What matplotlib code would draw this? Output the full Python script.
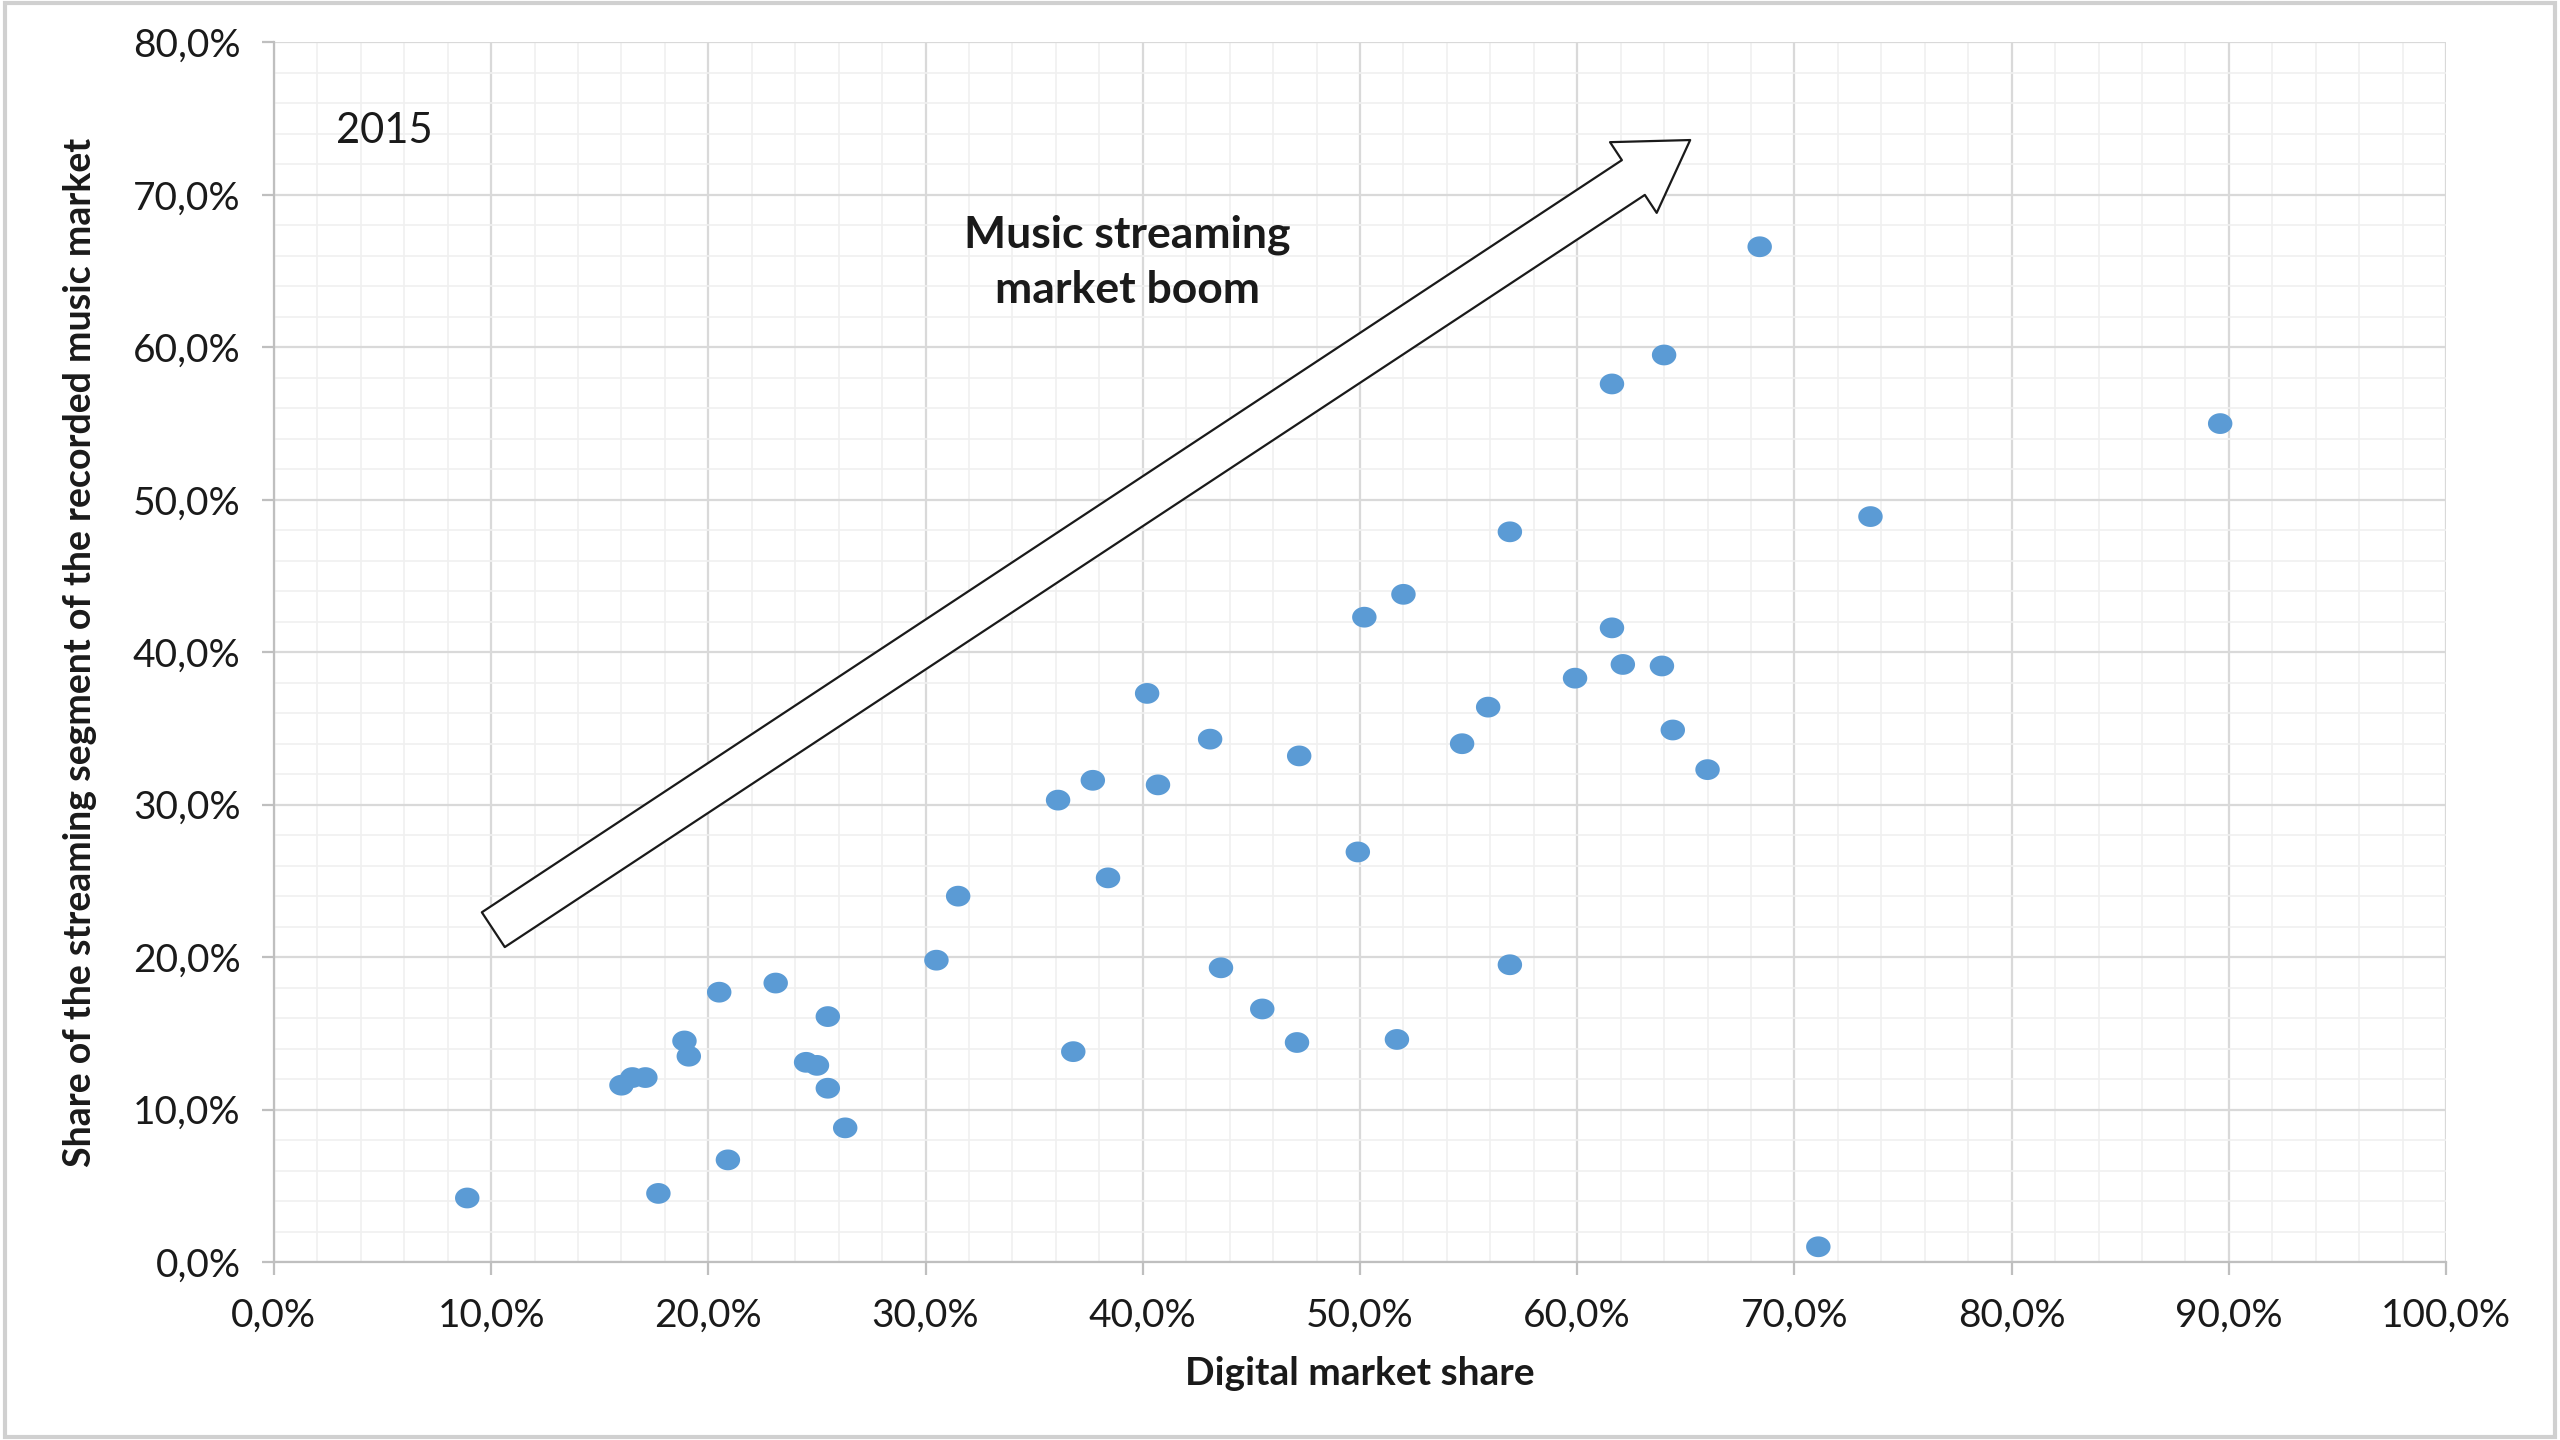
import numpy as np
import matplotlib
matplotlib.use("Agg")
import matplotlib.pyplot as plt
from matplotlib.ticker import MultipleLocator, FuncFormatter
from matplotlib.patches import Rectangle

# digital market share (%) and share of streaming (%) per country, 2015
digital_share = [8.9, 16.0, 16.5, 17.1, 17.7, 18.9, 19.1, 20.5, 20.9, 23.1,
                 24.5, 25.0, 25.5, 25.5, 26.3, 30.5, 31.5, 36.1, 36.8, 37.7,
                 38.4, 40.2, 40.7, 43.1, 43.6, 45.5, 47.1, 47.2, 49.9, 50.2,
                 51.7, 52.0, 54.7, 55.9, 56.9, 56.9, 59.9, 61.6, 61.6, 62.1,
                 63.9, 64.0, 64.4, 66.0, 68.4, 71.1, 73.5, 89.6]
streaming_share = [4.2, 11.6, 12.1, 12.1, 4.5, 14.5, 13.5, 17.7, 6.7, 18.3,
                   13.1, 12.9, 16.1, 11.4, 8.8, 19.8, 24.0, 30.3, 13.8, 31.6,
                   25.2, 37.3, 31.3, 34.3, 19.3, 16.6, 14.4, 33.2, 26.9, 42.3,
                   14.6, 43.8, 34.0, 36.4, 47.9, 19.5, 38.3, 57.6, 41.6, 39.2,
                   39.1, 59.5, 34.9, 32.3, 66.6, 1.0, 48.9, 55.0]

year_label = "2015"
boom_label = "Music streaming\nmarket boom"
arrow_tail = (10.1, 21.8)
arrow_tip = (65.2, 73.6)

plt.rcParams["font.family"] = ["Lato", "DejaVu Sans"]

fig = plt.figure(figsize=(25.6, 14.4), dpi=100)
ax = fig.add_axes([0.107, 0.1236, 0.8485, 0.8469])

# slightly wide ellipse marker, like the source
t = np.linspace(0, 2 * np.pi, 60)
ellipse = np.column_stack([np.cos(t), 0.85 * np.sin(t)])
ax.scatter(digital_share, streaming_share, s=310, marker=ellipse,
           color="#5B9BD5", edgecolors="none", zorder=3)

ax.set_xlim(0, 100)
ax.set_ylim(0, 80)
ax.xaxis.set_major_locator(MultipleLocator(10))
ax.xaxis.set_minor_locator(MultipleLocator(2))
ax.yaxis.set_major_locator(MultipleLocator(10))
ax.yaxis.set_minor_locator(MultipleLocator(2))
pct = FuncFormatter(lambda v, p: f"{v:.1f}%".replace(".", ","))
ax.xaxis.set_major_formatter(pct)
ax.yaxis.set_major_formatter(pct)

ax.grid(which="major", color="#d9d9d9", lw=1.6, zorder=0)
ax.grid(which="minor", color="#f0f0f0", lw=1.2, zorder=0)
ax.set_axisbelow(True)
for side in ["top", "right"]:
    ax.spines[side].set_visible(False)
for side in ["left", "bottom"]:
    ax.spines[side].set_color("#bfbfbf")
    ax.spines[side].set_linewidth(1.6)
ax.tick_params(which="major", length=9, width=1.6, color="#bfbfbf",
               labelsize=28, labelcolor="#1a1a1a")
ax.tick_params(axis="y", pad=15)
ax.tick_params(axis="x", pad=17)
ax.tick_params(which="minor", length=0)

ax.set_xlabel("Digital market share", fontsize=28, fontweight="bold",
              color="#1a1a1a", labelpad=16)
ax.set_ylabel("Share of the streaming segment of the recorded music market",
              fontsize=27, fontweight="bold", color="#1a1a1a", labelpad=26)

ax.text(5.1, 74.2, year_label, fontsize=30, color="#1a1a1a",
        ha="center", va="center")
ax.text(39.3, 65.6, boom_label, fontsize=32, fontweight="bold",
        color="#1a1a1a", ha="center", va="center", linespacing=1.45)

ax.annotate("", xy=arrow_tip, xytext=arrow_tail,
            arrowprops=dict(arrowstyle="simple,head_length=4.9,head_width=6.1,tail_width=3.0",
                            mutation_scale=10, fc="white", ec="#1a1a1a", lw=1.6,
                            shrinkA=0, shrinkB=0),
            zorder=4)

fig.patches.append(Rectangle((0.002, 0.002), 0.996, 0.996, transform=fig.transFigure,
                             fill=False, ec="#d0d0d0", lw=3))

fig.savefig("out.png", dpi=100)
